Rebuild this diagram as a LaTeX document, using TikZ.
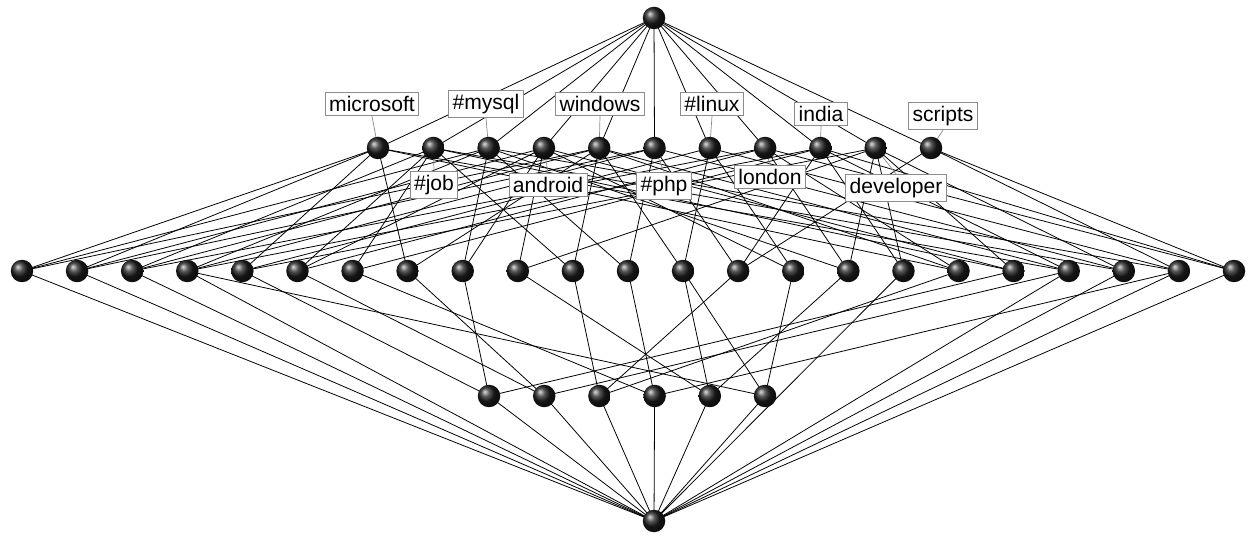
\documentclass[tikz,border=0pt]{standalone}
\usepackage{fontspec}
\setmainfont{Liberation Sans}
\begin{document}
\begin{tikzpicture}[x=0.02cm,y=-0.02cm,
  ballnode/.style={circle,shading=ball,ball color=black!88,minimum size=0.45cm,inner sep=0pt},
  edge/.style={draw=black,line width=0.45pt},
  labline/.style={draw=black!45,line width=0.4pt},
  lab/.style={draw=black!45,fill=white,line width=0.5pt,inner sep=2.2pt,font=\fontsize{12}{14}\selectfont}]
\useasboundingbox (0,0) rectangle (1256,536);
% node coordinates
\coordinate (top) at (654,18);
\coordinate (bot) at (654,521);
\foreach \k in {1,...,11}{\coordinate (b\k) at ({378+(\k-1)*55.3},148);}
\foreach \k in {1,...,23}{\coordinate (c\k) at ({22+(\k-1)*55.09},271);}
\foreach \k in {1,...,6}{\coordinate (d\k) at ({489+(\k-1)*55.2},396);}
% edges top -> row 2
\foreach \k in {1,...,11}{\draw[edge] (top) -- (b\k);}
% edges row 2 -> row 3
\foreach \c/\p/\q in {1/1/3,2/1/4,3/2/5,4/3/6,5/1/7,6/2/8,7/2/9,8/1/5,9/3/4,10/4/10,11/5/2,12/6/3,13/5/7,14/6/9,15/7/4,16/8/3,17/9/10,18/8/1,19/10/2,20/9/5,21/10/6,22/11/7,23/11/8}
  {\draw[edge] (b\p) -- (c\c); \draw[edge] (b\q) -- (c\c);}
% further long edges row 2 -> row 3
\foreach \c/\p in {2/6,3/8,4/9,5/10,6/4,1/5,20/1,21/2,22/3,19/4,18/5,23/9,16/10,14/11}
  {\draw[edge] (b\p) -- (c\c);}
% edges row 3 -> row 4
\foreach \d/\p/\q/\r in {1/9/5/19,2/8/6/20,3/11/14/18,4/12/7/22,5/13/10/16,6/15/4/13}
  {\draw[edge] (c\p) -- (d\d); \draw[edge] (c\q) -- (d\d); \draw[edge] (c\r) -- (d\d);}
% edges to bottom
\foreach \c in {1,2,3,4,17,20,21,22,23}{\draw[edge] (c\c) -- (bot);}
\foreach \k in {1,...,6}{\draw[edge] (d\k) -- (bot);}
% labels
\node[lab] (Lmicrosoft) at (372,104) {microsoft};
\node[lab] (Lmysql) at (486,104) {\#mysql};
\node[lab] (Lwindows) at (600,104) {windows};
\node[lab] (Llinux) at (712,104) {\#linux};
\node[lab] (Lindia) at (821,114) {india};
\node[lab] (Lscripts) at (943,116) {scripts};
\node[lab] (Ljob) at (434,185) {\#job};
\node[lab] (Landroid) at (548,185) {android};
\node[lab] (Lphp) at (664,186) {\#php};
\node[lab] (Llondon) at (770,177) {london};
\node[lab] (Ldeveloper) at (896,188) {developer};
% label connectors
\draw[labline] (Lmicrosoft.south) -- (b1);
\draw[labline] (Lmysql.south) -- (b3);
\draw[labline] (Lwindows.south) -- (b5);
\draw[labline] (Llinux.south) -- (b7);
\draw[labline] (Lindia.south) -- (b9);
\draw[labline] (Lscripts.south) -- (b11);
\draw[labline] (Ljob.north) -- (b2);
\draw[labline] (Landroid.north) -- (b4);
\draw[labline] (Lphp.north) -- (b6);
\draw[labline] (Llondon.north) -- (b8);
\draw[labline] (Ldeveloper.north) -- (b10);
% balls
\node[ballnode] (Ntop) at (top) {};
\node[ballnode] (Nbot) at (bot) {};
\foreach \k in {1,...,11}{\node[ballnode] (Nb\k) at (b\k) {};}
\foreach \k in {1,...,23}{\node[ballnode] (Nc\k) at (c\k) {};}
\foreach \k in {1,...,6}{\node[ballnode] (Nd\k) at (d\k) {};}
% labels on top of connectors
\node[lab] at (Lmicrosoft) {microsoft};
\node[lab] at (Lmysql) {\#mysql};
\node[lab] at (Lwindows) {windows};
\node[lab] at (Llinux) {\#linux};
\node[lab] at (Lindia) {india};
\node[lab] at (Lscripts) {scripts};
\node[lab] at (Ljob) {\#job};
\node[lab] at (Landroid) {android};
\node[lab] at (Lphp) {\#php};
\node[lab] at (Llondon) {london};
\node[lab] at (Ldeveloper) {developer};
\end{tikzpicture}
\end{document}
